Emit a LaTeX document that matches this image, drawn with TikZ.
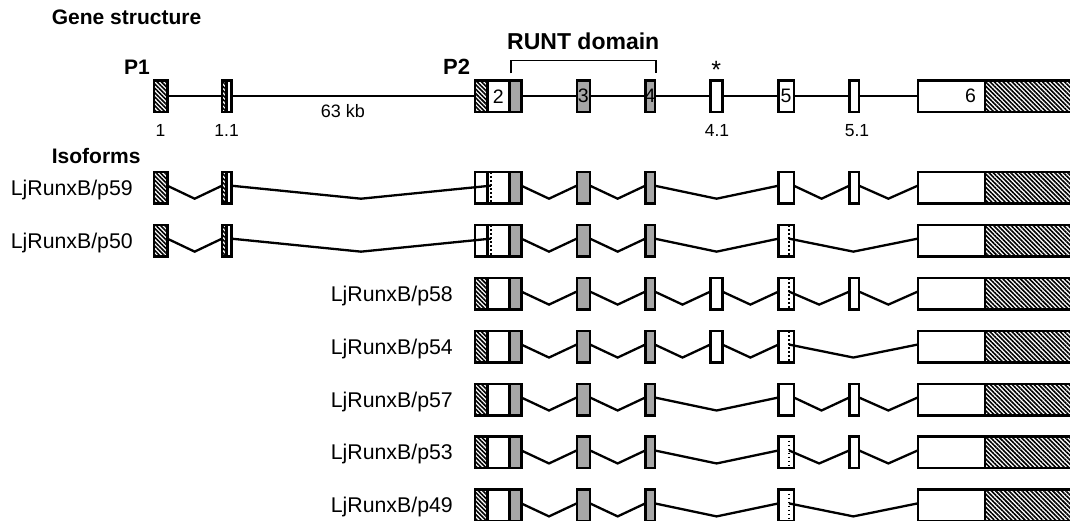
\documentclass[tikz,border=0pt]{standalone}
\usepackage{fontspec}
\setmainfont{Liberation Sans}
\usetikzlibrary{positioning}
\usetikzlibrary{calc}
\usetikzlibrary{patterns.meta}

\definecolor{runtgray}{RGB}{166,166,166}

% intron: V-shaped line between two splice sites
\newcommand{\intron}[2]{%
  \draw[intron] ([yshift=2pt]#1) -- ($([yshift=2pt]#1)!0.5!([yshift=2pt]#2)+(0,13)$) -- ([yshift=2pt]#2);}

\begin{document}
\begin{tikzpicture}[
        x=1pt, y=-1pt,
        box/.style={draw, line width=2.4pt, inner sep=0pt, outer sep=0pt,
                    minimum height=31.6pt},
        exon/.style={box, fill=white},
        runt/.style={box, fill=runtgray},
        utr/.style={box, pattern={Lines[angle=-45, distance=3.1pt, line width=1.6pt]}},
        intron/.style={line width=2.3pt},
        splice/.style={line width=1.8pt, dash pattern=on 1.8pt off 2.2pt},
        head/.style={font=\fontsize{21}{25}\selectfont\bfseries, inner sep=0pt, anchor=base west},
        isolab/.style={font=\fontsize{21.3}{25}\selectfont, inner sep=0pt, anchor=base east},
        numlab/.style={font=\fontsize{17.5}{20}\selectfont, inner sep=0pt, anchor=base},
        exnum/.style={font=\fontsize{19.5}{22}\selectfont, inner sep=0pt}
    ]
    \useasboundingbox (0,0) rectangle (1070,521);

    % ------- Gene structure (top row) -------
    \node[head] (gs) at (51.7,25) {Gene structure};
    \node[head] (p1) at (124,75) {P1};
    \node[head, font=\fontsize{22}{26}\selectfont\bfseries] (p2) at (443,75) {P2};

    \node[utr, minimum width=13.6pt] (g-1) at (160.5,96.2) {};
    \node[utr, minimum width=4.5pt] (g-11a) at (224.25,96.2) {};
    \node[exon, minimum width=4.8pt, right=0pt of g-11a] (g-11b) {};
    \node[utr, minimum width=12.3pt] (g-2a) at (481.15,96.2) {};
    \node[exon, minimum width=22pt, right=0pt of g-2a] (g-2b) {};
    \node[runt, minimum width=12pt, right=0pt of g-2b] (g-2c) {};
    \node[runt, minimum width=13.3pt] (g-3) at (583.35,96.2) {};
    \node[runt, minimum width=9.4pt] (g-4) at (650,96.2) {};
    \node[exon, minimum width=12pt] (g-41) at (716.3,96.2) {};
    \node[exon, minimum width=15.3pt] (g-5) at (786.15,96.2) {};
    \node[exon, minimum width=9.7pt] (g-51) at (854.15,96.2) {};
    \node[exon, minimum width=67.3pt, anchor=west] (g-6a) at (917.7,96.2) {};
    \node[utr, minimum width=100pt, right=0pt of g-6a] (g-6b) {};

    \draw[intron] (g-1.east) -- (g-11a.west) (g-11b.east) -- (g-2a.west)
        (g-2c.east) -- (g-3.west) (g-3.east) -- (g-4.west) (g-4.east) -- (g-41.west)
        (g-41.east) -- (g-5.west) (g-5.east) -- (g-51.west) (g-51.east) -- (g-6a.west);

    \node[exnum] (n2) at (g-2b) {2};
    \node[exnum] (n3) at (g-3) {3};
    \node[exnum] (n4) at (g-4) {4};
    \node[exnum] (n5) at (g-5) {5};
    \node[exnum] (n6) at ([xshift=-14.5pt]g-6a.east) {6};

    \node[numlab] (l1) at (160.5,136.5) {1};
    \node[numlab] (l11) at (226.6,136.5) {1.1};
    \node[numlab] (l41) at (717,136.5) {4.1};
    \node[numlab] (l51) at (857,136.5) {5.1};
    \node[numlab, font=\fontsize{18}{21}\selectfont, anchor=base west] (kb) at (320.7,117.3) {63 kb};
    \node[exnum, font=\fontsize{25}{28}\selectfont, anchor=base] (star) at (716.3,79) {*};

    % bracket over exons 2-4
    \coordinate (brl) at ([xshift=1.5pt,yshift=7pt]g-2c.north west);
    \coordinate (brr) at ([xshift=1pt,yshift=7pt]g-4.north east);
    \draw[line width=1.6pt] (brl) -- ++(0,-13) -| (brr);
    \coordinate (brtop) at ($(brl)!0.5!(brr)$);
    \node[head, font=\fontsize{23}{27}\selectfont\bfseries, anchor=base] (runt)
        at ([yshift=23.9pt]brtop) {RUNT domain};

    % ------- Isoforms -------
    \node[head] (iso) at (51.7,164) {Isoforms};

    \foreach \r/\y/\cap/\lx/\lab in {1/187.7/exon/133/p59, 2/240.65/exon/133/p50,
            3/293.6/utr/453/p58, 4/346.55/utr/453/p54, 5/399.5/utr/453/p57,
            6/452.45/utr/453/p53, 7/505.4/utr/453/p49} {
        \node[isolab] (lab\r) at (\lx,\y+7.5) {LjRunxB/\lab};
        \node[\cap, minimum width=12.3pt] (r\r-2a) at (481.15,\y) {};
        \node[exon, minimum width=22pt, right=0pt of r\r-2a] (r\r-2b) {};
        \node[runt, minimum width=12pt, right=0pt of r\r-2b] (r\r-2c) {};
        \node[runt, minimum width=13.3pt] (r\r-3) at (583.35,\y) {};
        \node[runt, minimum width=9.4pt] (r\r-4) at (650,\y) {};
        \node[exon, minimum width=15.3pt] (r\r-5) at (786.15,\y) {};
        \node[exon, minimum width=67.3pt, anchor=west] (r\r-6a) at (917.7,\y) {};
        \node[utr, minimum width=100pt, right=0pt of r\r-6a] (r\r-6b) {};
        \coordinate (r\r-d2) at ([xshift=3.4pt]r\r-2b.west);
        \coordinate (r\r-d5) at (789,\y);
        \intron{r\r-2c.east}{r\r-3.west}
        \intron{r\r-3.east}{r\r-4.west}
    }

    % p59
    \node[utr, minimum width=13.6pt] (r1-1) at (160.5,187.7) {};
    \node[utr, minimum width=4.5pt] (r1-11a) at (224.25,187.7) {};
    \node[exon, minimum width=4.8pt, right=0pt of r1-11a] (r1-11b) {};
    \node[exon, minimum width=9.7pt] (r1-51) at (854.15,187.7) {};
    \draw[splice] (r1-d2 |- r1-2b.north) -- (r1-d2 |- r1-2b.south);
    \intron{r1-1.east}{r1-11a.west}
    \intron{r1-11b.east}{r1-d2}
    \intron{r1-4.east}{r1-5.west}
    \intron{r1-5.east}{r1-51.west}
    \intron{r1-51.east}{r1-6a.west}

    % p50
    \node[utr, minimum width=13.6pt] (r2-1) at (160.5,240.65) {};
    \node[utr, minimum width=4.5pt] (r2-11a) at (224.25,240.65) {};
    \node[exon, minimum width=4.8pt, right=0pt of r2-11a] (r2-11b) {};
    \draw[splice] (r2-d2 |- r2-2b.north) -- (r2-d2 |- r2-2b.south);
    \draw[splice] (r2-d5 |- r2-5.north) -- (r2-d5 |- r2-5.south);
    \intron{r2-1.east}{r2-11a.west}
    \intron{r2-11b.east}{r2-d2}
    \intron{r2-4.east}{r2-5.west}
    \intron{r2-d5}{r2-6a.west}

    % p58
    \node[exon, minimum width=12pt] (r3-41) at (716.3,293.6) {};
    \node[exon, minimum width=9.7pt] (r3-51) at (854.15,293.6) {};
    \draw[splice] (r3-d5 |- r3-5.north) -- (r3-d5 |- r3-5.south);
    \intron{r3-4.east}{r3-41.west}
    \intron{r3-41.east}{r3-5.west}
    \intron{r3-d5}{r3-51.west}
    \intron{r3-51.east}{r3-6a.west}

    % p54
    \node[exon, minimum width=12pt] (r4-41) at (716.3,346.55) {};
    \draw[splice] (r4-d5 |- r4-5.north) -- (r4-d5 |- r4-5.south);
    \intron{r4-4.east}{r4-41.west}
    \intron{r4-41.east}{r4-5.west}
    \intron{r4-d5}{r4-6a.west}

    % p57
    \node[exon, minimum width=9.7pt] (r5-51) at (854.15,399.5) {};
    \intron{r5-4.east}{r5-5.west}
    \intron{r5-5.east}{r5-51.west}
    \intron{r5-51.east}{r5-6a.west}

    % p53
    \node[exon, minimum width=9.7pt] (r6-51) at (854.15,452.45) {};
    \draw[splice] (r6-d5 |- r6-5.north) -- (r6-d5 |- r6-5.south);
    \intron{r6-4.east}{r6-5.west}
    \intron{r6-d5}{r6-51.west}
    \intron{r6-51.east}{r6-6a.west}

    % p49
    \draw[splice] (r7-d5 |- r7-5.north) -- (r7-d5 |- r7-5.south);
    \intron{r7-4.east}{r7-5.west}
    \intron{r7-d5}{r7-6a.west}

\end{tikzpicture}
\end{document}
